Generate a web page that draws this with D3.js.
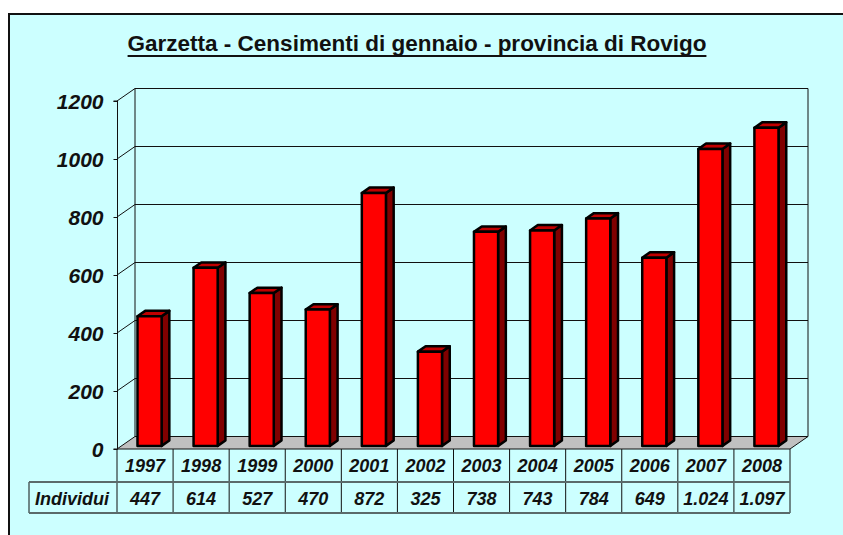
<!DOCTYPE html>
<html>
<head>
<meta charset="utf-8">
<script src="https://cdn.jsdelivr.net/npm/d3@7"></script>
<style>
  body { margin: 0; background: #fff; }
  svg { display: block; }
</style>
</head>
<body>
<script>
const svgW = 843;
const svgH = 535;

// dati
const anni = ['1997', '1998', '1999', '2000', '2001', '2002', '2003', '2004', '2005', '2006', '2007', '2008'];
const individui = [447, 614, 527, 470, 872, 325, 738, 743, 784, 649, 1024, 1097];
const yTicks = [0, 200, 400, 600, 800, 1000, 1200];
const titolo = 'Garzetta - Censimenti di gennaio - provincia di Rovigo';
const rigaLabel = 'Individui';

// area del grafico (piano frontale)
const x0 = 117, x1 = 790;
const yTop = 101, yBot = 449;
const DX = 18, DY = 12.5;   // profondità 3D
const t1 = 0.25, t2 = 0.68; // posizione delle barre nella profondità

const it = d3.formatLocale({ decimal: ',', thousands: '.', grouping: [3], currency: ['€', ''] });
const fmt = it.format(',');

const svg = d3.select('body')
              .append('svg')
              .attr('width', svgW)
              .attr('height', svgH);

// sfondo
svg.append('rect')
   .attr('x', 9).attr('y', 14)
   .attr('width', svgW + 20).attr('height', svgH + 20)
   .attr('fill', '#CCFFFF')
   .attr('stroke', '#111')
   .attr('stroke-width', 2);

// titolo
const title = svg.append('text')
   .attr('x', 417).attr('y', 51)
   .attr('text-anchor', 'middle')
   .attr('font-family', 'Liberation Sans, Arial, sans-serif')
   .attr('font-weight', 'bold')
   .attr('font-size', 22.5)
   .attr('fill', '#111')
   .text(titolo);
const tb = title.node().getBBox();
svg.append('line')
   .attr('x1', tb.x).attr('x2', tb.x + tb.width)
   .attr('y1', 56).attr('y2', 56)
   .attr('stroke', '#111').attr('stroke-width', 2);

// scale
const yScale = d3.scaleLinear().domain([0, 1200]).range([yBot, yTop]);
const xBar = d3.scaleBand().domain(anni).range([x0, x1]).paddingInner(0.57).paddingOuter(0.285);
const xCell = d3.scaleBand().domain(anni).range([x0, x1]);

// pavimento
svg.append('polygon')
   .attr('points', [[x0, yBot], [x1, yBot], [x1 + DX, yBot - DY], [x0 + DX, yBot - DY]].join(' '))
   .attr('fill', '#C0C0C0')
   .attr('stroke', '#111').attr('stroke-width', 1);

// griglia sulla parete di fondo
const grid = svg.append('g').attr('stroke', '#111').attr('stroke-width', 1).attr('fill', 'none');
grid.selectAll('.gl')
    .data(yTicks.filter(d => d > 0))
    .enter()
    .append('path')
    .attr('d', d => {
      const y = yScale(d);
      return `M${x0},${y}L${x0 + DX},${y - DY}L${x1 + DX},${y - DY}`;
    });
grid.append('line')
    .attr('x1', x0 + DX).attr('x2', x0 + DX)
    .attr('y1', yScale(1200) - DY).attr('y2', yBot - DY);
grid.append('line')
    .attr('x1', x1 + DX).attr('x2', x1 + DX)
    .attr('y1', yScale(1200) - DY).attr('y2', yBot - DY);

// asse y
const yAxis = d3.axisLeft(yScale).tickValues(yTicks).tickSize(4).tickFormat(d => d);
const ag = svg.append('g')
   .attr('transform', `translate(${x0 + 0.5}, 0)`)
   .call(yAxis);
ag.select('.domain').attr('d', `M-4,${yTop}H0V${yBot}H-4`).attr('stroke', '#111');
ag.selectAll('.tick line').attr('stroke', '#111');
ag.selectAll('.tick text')
  .attr('x', -14)
  .attr('dy', '0.36em')
  .attr('font-family', 'Liberation Sans, Arial, sans-serif')
  .attr('font-size', 21)
  .attr('font-weight', 'bold')
  .attr('font-style', 'italic')
  .attr('fill', '#111');

// barre 3D
const dd = (t2 - t1) * DX, ddy = (t2 - t1) * DY;
const bars = svg.selectAll('.bar')
   .data(anni.map((a, i) => ({ anno: a, v: individui[i] })))
   .enter()
   .append('g')
   .attr('class', 'bar')
   .attr('stroke', '#000')
   .attr('stroke-width', 2.5)
   .attr('stroke-linejoin', 'round');

bars.append('polygon')
    .attr('points', d => {
      const bx = xBar(d.anno) + t1 * DX, w = xBar.bandwidth();
      const yt = yScale(d.v) - t1 * DY, yb = yBot - t1 * DY;
      return [[bx + w, yt], [bx + w + dd, yt - ddy], [bx + w + dd, yb - ddy], [bx + w, yb]].join(' ');
    })
    .attr('fill', '#800000');

bars.append('polygon')
    .attr('points', d => {
      const bx = xBar(d.anno) + t1 * DX, w = xBar.bandwidth();
      const yt = yScale(d.v) - t1 * DY;
      return [[bx, yt], [bx + dd, yt - ddy], [bx + w + dd, yt - ddy], [bx + w, yt]].join(' ');
    })
    .attr('fill', '#C00000');

bars.append('rect')
    .attr('x', d => xBar(d.anno) + t1 * DX)
    .attr('y', d => yScale(d.v) - t1 * DY)
    .attr('width', xBar.bandwidth())
    .attr('height', d => yBot - yScale(d.v))
    .attr('fill', '#FF0000');

// tabella dati
const rowA = yBot, rowB = 482, rowC = 513;
const tab = svg.append('g');
const txtStyle = sel => sel
    .attr('font-family', 'Liberation Sans, Arial, sans-serif')
    .attr('font-size', 18)
    .attr('font-weight', 'bold')
    .attr('font-style', 'italic')
    .attr('fill', '#111')
    .attr('text-anchor', 'middle');

tab.selectAll('.vl')
   .data(anni.map(a => xCell(a)).concat([x1]))
   .enter()
   .append('line')
   .attr('x1', d => d).attr('x2', d => d)
   .attr('y1', rowA).attr('y2', rowC)
   .attr('stroke', '#111').attr('stroke-width', 1);
tab.append('line')
   .attr('x1', 29).attr('x2', 29).attr('y1', rowB).attr('y2', rowC)
   .attr('stroke', '#111');
tab.append('line')
   .attr('x1', 29).attr('x2', x1).attr('y1', rowB).attr('y2', rowB)
   .attr('stroke', '#5a6a6a').attr('stroke-width', 2);
tab.append('line')
   .attr('x1', 29).attr('x2', x1).attr('y1', rowC).attr('y2', rowC)
   .attr('stroke', '#5a6a6a').attr('stroke-width', 2);

tab.selectAll('.anno')
   .data(anni)
   .enter()
   .append('text')
   .attr('x', d => xCell(d) + xCell.bandwidth() / 2)
   .attr('y', 472)
   .text(d => d)
   .call(txtStyle);

tab.selectAll('.val')
   .data(individui)
   .enter()
   .append('text')
   .attr('x', (d, i) => xCell(anni[i]) + xCell.bandwidth() / 2)
   .attr('y', 505)
   .text(d => fmt(d))
   .call(txtStyle);

tab.append('text')
   .attr('x', 72).attr('y', 505)
   .text(rigaLabel)
   .call(txtStyle);
</script>
</body>
</html>
